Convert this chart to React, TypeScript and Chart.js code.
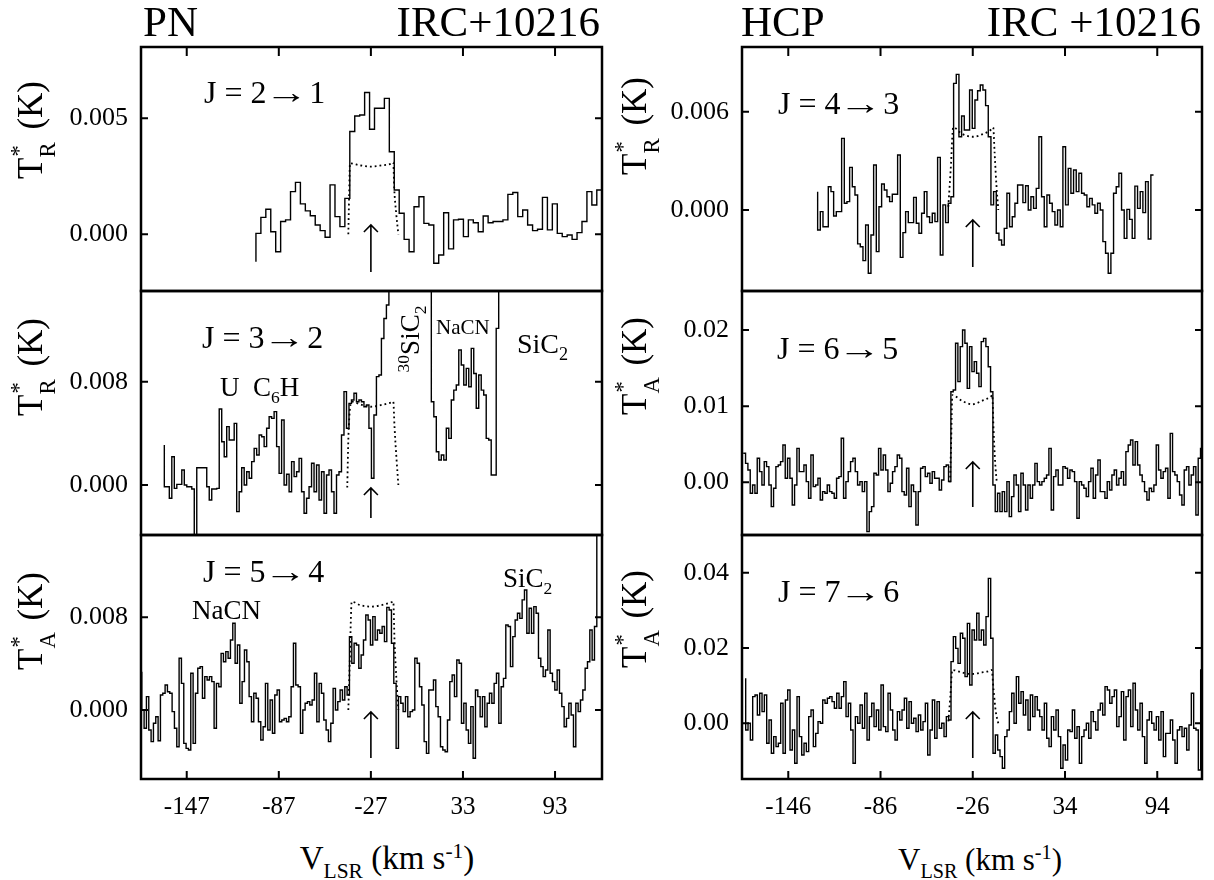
import React, { useEffect, useRef } from "react";
import { Chart, registerables } from "chart.js";
Chart.register(...registerables);

const FONT = '"Liberation Serif", "Times New Roman", Times, serif';

// ---------- tick values ----------
const pnVelTicks = [-147, -87, -27, 33, 93];
const hcpVelTicks = [-146, -86, -26, 34, 94];
const pn21Ticks = [0, 0.005];
const pn32Ticks = [0, 0.008];
const pn54Ticks = [0, 0.008];
const hcp43Ticks = [0, 0.006];
const hcp65Ticks = [0, 0.01, 0.02];
const hcp76Ticks = [0, 0.02, 0.04];

// ---------- observed spectra (mK), one value per channel ----------
const pn21Vals = [
  0.04, 0.73, 1.08, 0.11, -0.75, 0.55, 0.62, 1.84, 2.24, 1.31,
  1.01, 0.8, 0.4, 0.16, -0.13, 2.13, 0.76, 0.33, 1.55, 4.43,
  5.1, 5.14, 6.11, 4.53, 5.43, 5.43, 5.86, 3.56, 1.91, 0.91,
  -0.22, -0.75, 1.19, 1.62, 0.47, 0.4, -1.25, -0.89, 0.93, -0.63,
  0.62, 0.65, -0.1, 0.62, 0.5, 0.11, 0.79, 0.5, 0.55, 0.55,
  0.62, 1.72, 1.8, 0.76, 1.05, 0.4, 0.16, 0.22, 1.59, 0.19,
  1.31, 0.04, -0.1, -0.03, -0.22, 0.07, 0.55, 1.84, 1.26, 1.91,
];
const pn32Vals = [
  -0.13, -0.13, -1.03, 2.19, -0.26, 0.05, 0.05, 1.16, 0, -0.13,
  -0.13, -0.31, -4.0, 1.34, 1.34, 1.34, 1.34, -0.13, -1.16, -0.31,
  -0.31, -0.26, 5.88, 3.35, 2.19, 4.52, 3.48, 3.48, 4.77, -2.06,
  -0.52, 1.34, 0, 1.03, 0.52, 1.81, 2.84, 2.32, 3.87, 3.74,
  2.97, 4.39, 5.29, 5.16, 5.68, 2.97, 0.9, 5.03, 0, 0.83,
  -0.52, 1.81, 0.65, 1.03, 2.06, -0.52, -2.19, -1.03, -0.13, 1.68,
  -0.52, 1.55, -1.16, 1.03, -2.19, 0.77, 1.16, -0.52, -2.19, 0.77,
  1.03, 3.87, 7.23, 4.39, 6.32, 6.58, 7.1, 6.45, 6.58, 6.45,
  6.06, 6.19, 4.39, 0.52, 5.42, 8.39, 8.52, 11.35, 12.9, 13.94,
  20, 20, 20, 20, 20, 20, 20, 20, 20, 20,
  20, 20, 20, 20, 20, 20, 20, 6.45, 5.29, 2.58,
  1.94, 2.32, 1.94, 4.39, 3.61, 6.58, 7.35, 7.74, 10.45, 9.29,
  7.74, 9.03, 7.61, 10.58, 8.64, 5.94, 8.52, 7.35, 6.97, 3.61,
  3.48, 0.77, 0.77, 12.13, 20, 20,
];
const pn54Vals = [
  0, -1.58, 1.15, -1.73, -2.73, -1.15, -0.58, -2.65, 1.3, 1.44,
  2.16, 1.58, 1.44, -0.14, -1.58, -3.17, 4.46, 2.3, -2.88, -3.31,
  -3.45, 3.17, -2.88, 1.44, 3.6, 3.74, 1.01, 2.88, 2.59, 2.88,
  2.45, -1.58, 2.3, 2.01, 4.89, 4.17, 5.04, 4.46, 6.04, 7.48,
  4.03, 5.61, 0.58, 2.45, 5.18, 4.17, 1.15, -1.01, 1.44, 1.01,
  -1.01, -2.59, -1.44, 2.3, -1.73, 0.86, -2.01, 1.3, 1.73, -1.01,
  -0.86, -0.72, -1.01, -0.58, 2.01, 5.76, 2.16, 2.01, -2.01, 0,
  0.58, 0.72, 0.43, 0.86, 3.17, -1.01, 2.3, 1.44, -0.86, -1.73,
  -2.73, -1.15, 1.87, 0, 0.72, 1.73, 0.86, 2.01, 1.3, 6.33,
  4.03, 5.76, 5.61, 3.6, 4.75, 6.04, 8.2, 7.77, 5.61, 8.06,
  6.04, 6.91, 6.62, 7.2, 5.9, 8.86, 8.63, 5.76, 2.3, -3.31,
  1.15, 0.58, -0.14, 1.15, -0.58, -0.14, 0, 4.46, 4.03, 2.01,
  0.43, -2.73, -3.74, 1.73, 1.73, 2.59, 0.29, -0.58, -3.17, -3.45,
  -3.6, -0.86, 2.45, 3.02, 1.15, 4.32, 4.03, -1.15, 0.58, -1.73,
  -2.88, 0.29, -4.17, 1.73, 1.15, -0.58, 1.15, -1.44, 0.58, 1.44,
  0.58, 2.3, 3.17, -1.15, 2.01, 2.73, 7.34, 7.2, 3.74, 6.33,
  7.77, 8.35, 7.91, 9.5, 10.36, 6.62, 8.78, 6.62, 8.92, 8.35,
  4.46, 3.74, 2.88, 3.45, 6.91, 3.17, 2.45, 1.73, 3.45, 1.44,
  0.29, -1.44, -0.72, 0.58, -0.43, -3.17, 0.58, -0.14, 0.86, 1.73,
  3.6, 4.17, 6.91, 4.32, 7.2, 18,
];
const hcp43Vals = [
  -1.22, -0.1, -1.02, -1.02, 1.42, 1.12, -0.37, -0.1, -0.1, 4.37,
  0.41, 0.51, 2.6, 1.42, 0.92, -2.07, -2.24, -3.09, -0.92, -3.86,
  -1.53, 2.75, -2.54, 0.2, 1.59, 1.22, 0.81, 0.51, 0.96, 0.96,
  3.36, -2.89, -1.38, -0.1, -0.77, -0.77, 0.77, -0.81, -1.42, -0.2,
  1.12, -0.41, -0.77, -0.2, -0.71, 3.21, -2.75, 0.31, -0.77, 0.41,
  0.81, 7.73, 8.28, 4.47, 5.74, 4.88, 4.88, 7.32, 4.98, 6.71,
  7.28, 7.63, 7.32, 6.37, 4.47, 0.31, 1.12, -1.42, -1.83, -2.14,
  -1.12, 1.02, -1.02, -0.41, 0.41, 1.53, 1.53, 0.45, 1.48, 0,
  0.81, 0.1, 1.32, 4.47, 0.81, -1.02, 0.92, 0.41, -0.1, -0.92,
  0, -1.02, 3.86, 0.31, 2.54, 1.02, 2.44, 1.12, 2.24, 1.02,
  0.92, 0.2, 0.71, 0.31, -0.2, 0.41, 0, -1.93, -2.64, -3.86,
  -2.64, 1.02, 1.42, 2.24, 0, -1.73, 0.04, -0.57, -1.73, 1.46,
  0.1, 1.12, -0.16, 1.73, -1.77, 2.14,
];
const hcp65Vals = [
  3.81, 2.49, 1.62, -1.44, -0.35, -1.44, 3.15, 1.4, -0.35, 2.71,
  2.06, -0.35, -3.19, -0.79, 2.06, 2.28, 2.71, 4.9, 0.53, 3.15,
  0.53, -2.98, -0.35, 4.46, 1.4, 1.4, 2.28, 0.09, -2.1, 3.59,
  -0.57, -0.35, 0.53, -2.32, -1.23, -1.44, -0.35, -1.23, -1.44, -2.1,
  0.53, 0.74, 5.78, -2.1, 0.09, 1.4, 2.71, 3.15, 1.4, -0.35,
  0.09, -1.23, 0.09, -6.48, -3.85, -3.19, 1.18, 0.96, 4.46, 1.62,
  3.59, 1.62, -1.23, -0.13, 1.4, 2.06, 3.59, 3.15, -1.23, -1.66,
  1.84, -3.19, -0.35, -1.23, -5.6, -1.23, 1.84, 2.06, 0.74, 1.18,
  -0.13, 1.4, 0.53, 0.53, -1.01, 0.31, 2.06, 2.28, 0.09, 11.9,
  12.12, 18.25, 13.22, 17.81, 20.0, 18.25, 12.34, 17.81, 14.53, 15.84,
  14.31, 12.56, 18.47, 18.9, 17.81, 15.18, 11.9, -0.35, -3.85, -1.44,
  -3.85, -1.23, -3.85, 0.09, -4.51, -1.88, 0.96, -0.35, -3.85, 1.18,
  -0.35, -3.63, -0.35, -2.1, -0.35, 2.49, 0.09, -0.35, 0.09, 0.53,
  0.96, 4.46, -3.63, 0.74, 1.62, -0.35, -0.35, 2.06, 1.84, 0.53,
  1.62, 1.4, 0.09, -4.73, 0.09, -0.35, -0.79, -1.88, 0.09, 1.84,
  -2.1, 0.96, 2.93, -1.23, -1.23, -2.1, 0.09, -1.01, 0.96, 1.62,
  -0.35, 0.53, 1.4, -0.35, 4.03, 4.9, 5.56, 2.28, 5.34, 2.28,
  0.96, 0.09, -1.23, -2.32, -0.79, -1.23, -0.35, 4.9, 1.62, 0.53,
  1.4, 1.84, -2.1, 6.43, 1.4, 0.96, 0.09, -1.66, -2.98, 1.62,
  2.06, -0.35, 0.96, 2.06, -4.29, 3.15, 4.46,
];
const hcp76Vals = [
  -1.77, 0, -4.43, 7.08, 7.52, 2.21, 7.97, 3.1, 7.52, -5.31,
  0.89, -7.97, -3.54, -6.2, -5.31, 5.31, -7.97, 6.2, 8.85, -7.08,
  -1.77, -10.62, 7.08, -3.54, -8.41, -5.31, -7.52, 1.77, 3.54, -6.2,
  -2.66, 0.44, 0, 6.2, 5.31, 6.64, 7.08, 5.75, 3.98, 7.97,
  3.98, 7.08, 11.06, 1.77, 5.31, -1.77, -10.62, 1.77, 0, 4.87,
  -1.33, 7.97, -4.43, 1.77, 5.31, -0.89, 3.54, -1.77, 10.18, -0.89,
  -2.21, 7.97, 3.54, -1.77, -4.43, 3.1, 0.89, 3.54, 6.64, -1.33,
  5.75, 0, 1.33, -2.21, 2.21, -1.77, 0.44, 5.31, -8.41, -1.77,
  6.2, -3.98, 5.75, -1.33, 0, -3.54, 1.77, 0.89, 16.37, 23.01,
  19.91, 15.93, 23.9, 22.57, 12.39, 26.55, 10.18, 24.78, 22.13, 29.21,
  22.13, 24.78, 20.8, 28.32, 38.5, 22.57, -7.97, -3.1, -7.08, -8.85,
  -11.95, -3.54, -1.77, 3.1, 7.97, 0, 12.39, 5.31, 8.41, 2.21,
  6.2, -1.77, 7.52, 1.77, 7.08, 3.54, 1.77, -1.77, 5.31, -3.98,
  -6.2, 1.77, -1.77, 3.54, -3.54, -11.95, -5.75, -9.74, -1.77, -2.21,
  3.54, -3.98, -0.89, -10.62, -3.54, -1.77, 0, -3.98, 3.1, 0.44,
  -1.77, 3.54, 5.31, 2.21, 9.74, 8.85, 5.31, 7.08, 8.85, -0.89,
  1.77, 8.41, -4.43, 7.08, 8.85, -0.89, 10.62, 3.54, -1.77, 5.31,
  -3.54, -10.62, 0.89, 3.1, 0, -1.77, 1.77, -4.43, 3.1, -8.85,
  -2.66, -2.66, 0.89, -4.43, -10.62, -1.77, -0.89, -3.54, -1.33, -7.08,
  -0.44, 7.97, -1.33, -1.77, -12.39, 14.16,
];

// ---------- model profiles (dotted), velocity (km/s) and T (mK) ----------
const pn21ModelV = [-41.7, -41.2, -40.6, -34, -27, -20, -13.5, -12.4, -11.8, -10.5, -9.1];
const pn21ModelT = [0, 1.6, 3.06, 2.97, 2.92, 2.97, 3.05, 3.1, 2.0, 0.9, 0];
const pn32ModelV = [-42.4, -41.6, -39.5, -34, -27, -20, -13.5, -12.4, -11.6, -10.3, -9.1];
const pn32ModelT = [-0.2, 3.9, 6.45, 6.25, 6.06, 6.2, 6.4, 6.45, 4.5, 2.0, 0];
const pn54ModelV = [-41.7, -40.8, -39.5, -34, -27, -20, -13.5, -12.4, -11.6, -10.3, -9.1];
const pn54ModelT = [0, 4.0, 9.35, 9.05, 8.92, 9.05, 9.3, 9.35, 6.0, 2.5, 0];
const hcp43ModelV = [-41.9, -40.4, -38.7, -33, -26, -19, -13.5, -12.7, -11.8, -10.6, -9.4];
const hcp43ModelT = [0.2, 2.4, 5.04, 4.65, 4.47, 4.65, 4.95, 5.04, 3.5, 1.5, 0];
const hcp65ModelV = [-40.8, -40.1, -39.3, -33, -26.5, -20, -14, -13.3, -12.5, -11.4, -10.4];
const hcp65ModelT = [0, 5, 11.46, 10.7, 10.24, 10.7, 11.3, 11.46, 7, 2.5, 0];
const hcp76ModelV = [-41.9, -40.6, -39.3, -33, -26.5, -20, -14.5, -13.7, -12.5, -11, -9.4];
const hcp76ModelT = [0.5, 7, 14.16, 13.5, 13.1, 13.5, 14.0, 14.16, 9, 3, 0];

// channel grid: first channel left edge, channel width, level before first channel
const pn21Grid = { v0: -101.9, dv: 3.219, start: -1.18 };
const pn32Grid = { v0: -161.6, dv: 1.626, start: 3.1 };
const pn54Grid = { v0: -176.3, dv: 1.5206, start: 3.31 };
const hcp43Grid = { v0: -126.9, dv: 1.734, start: 1.12 };
const hcp65Grid = { v0: -175.3, dv: 1.5176, start: 3.81 };
const hcp76Grid = { v0: -173.7, dv: 1.5176, start: 11.95 };

function stepPoints(grid: { v0: number; dv: number; start: number }, vals: number[]) {
  const pts: { x: number; y: number }[] = [{ x: grid.v0, y: grid.start / 1000 }];
  vals.forEach((v, i) => pts.push({ x: grid.v0 + i * grid.dv, y: v / 1000 }));
  pts.push({ x: grid.v0 + vals.length * grid.dv, y: vals[vals.length - 1] / 1000 });
  return pts;
}
function modelPoints(vs: number[], ts: number[]) {
  return vs.map((v, i) => ({ x: v, y: ts[i] / 1000 }));
}

type PanelCfg = {
  L: number; T: number; W: number; H: number;
  xMin: number; xMax: number; yMin: number; yMax: number;
  yTicks: number[]; dec: number; xTicks: number[];
  xSide: "top" | "none" | "bottom";
  steps: { x: number; y: number }[];
  model: { x: number; y: number }[];
  arrowX: number; tip: number; tail: number;
};

const PAD = 100;

const panels: PanelCfg[] = [
  { L: 141, T: 47, W: 461, H: 244, xMin: -176.8, xMax: 123.6, yMin: -0.002444, yMax: 0.008073, yTicks: pn21Ticks, dec: 3, xTicks: pnVelTicks, xSide: "top", steps: stepPoints(pn21Grid, pn21Vals), model: modelPoints(pn21ModelV, pn21ModelT), arrowX: -27, tip: 66, tail: 19 },
  { L: 141, T: 291, W: 461, H: 244, xMin: -176.8, xMax: 123.6, yMin: -0.003872, yMax: 0.015024, yTicks: pn32Ticks, dec: 3, xTicks: pnVelTicks, xSide: "none", steps: stepPoints(pn32Grid, pn32Vals), model: modelPoints(pn32ModelV, pn32ModelT), arrowX: -27, tip: 47, tail: 17 },
  { L: 141, T: 535, W: 461, H: 244, xMin: -176.8, xMax: 123.6, yMin: -0.005955, yMax: 0.015102, yTicks: pn54Ticks, dec: 3, xTicks: pnVelTicks, xSide: "bottom", steps: stepPoints(pn54Grid, pn54Vals), model: modelPoints(pn54ModelV, pn54ModelT), arrowX: -27, tip: 67, tail: 21 },
  { L: 742, T: 47, W: 460, H: 244, xMin: -176.1, xMax: 123.1, yMin: -0.004944, yMax: 0.009949, yTicks: hcp43Ticks, dec: 3, xTicks: hcpVelTicks, xSide: "top", steps: stepPoints(hcp43Grid, hcp43Vals), model: modelPoints(hcp43ModelV, hcp43ModelT), arrowX: -26, tip: 71, tail: 24 },
  { L: 742, T: 291, W: 460, H: 244, xMin: -176.1, xMax: 123.1, yMin: -0.00692, yMax: 0.02512, yTicks: hcp65Ticks, dec: 2, xTicks: hcpVelTicks, xSide: "none", steps: stepPoints(hcp65Grid, hcp65Vals), model: modelPoints(hcp65ModelV, hcp65ModelT), arrowX: -26, tip: 73, tail: 28 },
  { L: 742, T: 535, W: 460, H: 244, xMin: -176.1, xMax: 123.1, yMin: -0.01479, yMax: 0.05001, yTicks: hcp76Ticks, dec: 2, xTicks: hcpVelTicks, xSide: "bottom", steps: stepPoints(hcp76Grid, hcp76Vals), model: modelPoints(hcp76ModelV, hcp76ModelT), arrowX: -26, tip: 67, tail: 21 },
];

const framePlugin = {
  id: "frame",
  afterDatasetsDraw(chart: any, _args: any, opts: any) {
    const { ctx, chartArea: a, scales } = chart;
    ctx.save();
    ctx.strokeStyle = "#000";
    ctx.lineWidth = 2.5;
    ctx.strokeRect(a.left, a.top, a.right - a.left, a.bottom - a.top);
    ctx.lineWidth = 2;
    ctx.beginPath();
    if (opts.xSide !== "none") {
      for (const v of opts.xTicks) {
        const px = scales.x.getPixelForValue(v);
        if (opts.xSide === "top") { ctx.moveTo(px, a.top); ctx.lineTo(px, a.top + 9); }
        else { ctx.moveTo(px, a.bottom); ctx.lineTo(px, a.bottom - 8); }
      }
    }
    for (const v of opts.yTicks) {
      const py = scales.y.getPixelForValue(v);
      ctx.moveTo(a.left, py); ctx.lineTo(a.left + 7, py);
      ctx.moveTo(a.right, py); ctx.lineTo(a.right - 7, py);
    }
    ctx.stroke();
    // arrow marking systemic velocity
    const ax = scales.x.getPixelForValue(opts.arrowX);
    const tipY = a.bottom - opts.tip;
    const tailY = a.bottom - opts.tail;
    ctx.lineWidth = 1.6;
    ctx.beginPath();
    ctx.moveTo(ax, tailY); ctx.lineTo(ax, tipY);
    ctx.moveTo(ax - 7, tipY + 7); ctx.lineTo(ax, tipY); ctx.lineTo(ax + 7, tipY + 7);
    ctx.stroke();
    ctx.restore();
  },
};

function Panel({ cfg }: { cfg: PanelCfg }) {
  const ref = useRef<HTMLCanvasElement | null>(null);
  const isBottom = cfg.xSide === "bottom";
  const cw = cfg.W + PAD + 4;
  const ch = cfg.H + 3 + (isBottom ? 60 : 4);
  useEffect(() => {
    const chart = new Chart(ref.current as HTMLCanvasElement, {
      type: "line",
      data: {
        datasets: [
          { data: cfg.steps, borderColor: "#000", borderWidth: 1.4, pointRadius: 0, stepped: true, fill: false, tension: 0 },
          { data: cfg.model, borderColor: "#000", borderWidth: 1.8, borderDash: [1.8, 3], pointRadius: 0, fill: false, cubicInterpolationMode: "monotone" },
        ],
      } as any,
      options: {
        animation: false,
        responsive: false,
        devicePixelRatio: 1,
        events: [],
        layout: { padding: { left: 0, top: 3, right: 4, bottom: isBottom ? 0 : 4 } },
        plugins: {
          legend: { display: false },
          tooltip: { enabled: false },
          frame: { xTicks: cfg.xTicks, yTicks: cfg.yTicks, xSide: cfg.xSide, arrowX: cfg.arrowX, tip: cfg.tip, tail: cfg.tail },
        } as any,
        scales: {
          x: {
            type: "linear",
            min: cfg.xMin,
            max: cfg.xMax,
            display: isBottom,
            position: "bottom",
            grid: { display: false, drawTicks: false },
            border: { display: false },
            ticks: { font: { family: FONT, size: 25 }, color: "#000", padding: 13, maxRotation: 0, autoSkip: false, callback: (v: any) => String(v) },
            afterBuildTicks: (s: any) => { s.ticks = cfg.xTicks.map((value) => ({ value })); },
            afterFit: (s: any) => {
              s.height = isBottom ? 60 : 0;
              s.paddingLeft = 0; s.paddingRight = 0; s.paddingTop = 0; s.paddingBottom = 0;
            },
          },
          y: {
            type: "linear",
            min: cfg.yMin,
            max: cfg.yMax,
            grid: { display: false, drawTicks: false },
            border: { display: false },
            ticks: { font: { family: FONT, size: 26 }, color: "#000", padding: 13, callback: (v: any) => Number(v).toFixed(cfg.dec) },
            afterBuildTicks: (s: any) => { s.ticks = cfg.yTicks.map((value) => ({ value })); },
            afterFit: (s: any) => {
              s.width = PAD;
              s.paddingLeft = 0; s.paddingRight = 0; s.paddingTop = 0; s.paddingBottom = 0;
            },
          },
        } as any,
      },
      plugins: [framePlugin],
    });
    return () => chart.destroy();
  }, []);
  return (
    <canvas
      ref={ref}
      width={cw}
      height={ch}
      style={{ position: "absolute", left: cfg.L - PAD, top: cfg.T - 3, width: cw, height: ch }}
    />
  );
}

const subStyle: React.CSSProperties = { fontSize: "0.65em", lineHeight: 0, position: "relative", verticalAlign: "baseline", top: "0.4em" };
const supStyle: React.CSSProperties = { fontSize: "0.65em", lineHeight: 0, position: "relative", verticalAlign: "baseline", top: "-0.55em" };

function Txt({ left, right, baseline, size, children, center }: any) {
  const style: React.CSSProperties = {
    position: "absolute",
    top: baseline - 0.8375 * size,
    fontSize: size,
    lineHeight: 1,
    fontFamily: FONT,
    whiteSpace: "nowrap",
    color: "#000",
  };
  if (left !== undefined) style.left = left;
  if (right !== undefined) style.right = right;
  if (center) style.transform = "translateX(-50%)";
  return <div style={style}>{children}</div>;
}

function Rot({ cx, cy, size, children }: any) {
  return (
    <div
      style={{
        position: "absolute",
        left: cx,
        top: cy,
        fontSize: size,
        lineHeight: 1,
        fontFamily: FONT,
        whiteSpace: "nowrap",
        color: "#000",
        transform: "translate(-50%, -50%) rotate(-90deg)",
      }}
    >
      {children}
    </div>
  );
}

function YTitle({ sub }: { sub: string }) {
  return (
    <span>
      T
      <span style={{ position: "relative", display: "inline-block", width: "0.45em", height: "0.1em" }}>
        <span style={{ position: "absolute", left: "0.05em", top: "-1.35em", fontSize: "0.65em", lineHeight: 1 }}>*</span>
        <span style={{ position: "absolute", left: 0, top: "-0.07em", fontSize: "0.65em", lineHeight: 1 }}>{sub}</span>
      </span>
      <span style={{ marginLeft: "0.35em" }}>(K)</span>
    </span>
  );
}

function XTitle() {
  return (
    <span>
      V<span style={subStyle}>LSR</span> (km s<span style={supStyle}>-1</span>)
    </span>
  );
}

function JLabel({ up, low }: { up: string; low: string }) {
  return (
    <span>
      J = {up}
      <span style={{ display: "inline-block", transform: "scaleX(1.35)", margin: "0 0.22em 0 0.12em" }}>→</span>
      {low}
    </span>
  );
}

export default function App() {
  return (
    <div style={{ position: "absolute", left: 0, top: 0, width: 1214, height: 880, background: "#fff", overflow: "hidden" }}>
      {panels.map((p, i) => (
        <Panel key={i} cfg={p} />
      ))}
      {/* titles */}
      <Txt left={143} baseline={36} size={43}>PN</Txt>
      <Txt right={614} baseline={36} size={43}>IRC+10216</Txt>
      <Txt left={741} baseline={36} size={43}>HCP</Txt>
      <Txt right={13} baseline={36} size={43}>IRC +10216</Txt>

      {/* transitions */}
      <Txt left={204} baseline={103} size={32}><JLabel up="2" low="1" /></Txt>
      <Txt left={202} baseline={348} size={32}><JLabel up="3" low="2" /></Txt>
      <Txt left={203} baseline={582} size={32}><JLabel up="5" low="4" /></Txt>
      <Txt left={778} baseline={114} size={32}><JLabel up="4" low="3" /></Txt>
      <Txt left={777} baseline={359} size={32}><JLabel up="6" low="5" /></Txt>
      <Txt left={778} baseline={602} size={32}><JLabel up="7" low="6" /></Txt>

      {/* species in PN panels */}
      <Txt left={220} baseline={397} size={27}>U</Txt>
      <Txt left={253} baseline={397} size={27}>C<span style={subStyle}>6</span>H</Txt>
      <Rot cx={410} cy={339} size={27}>
        <span style={supStyle}>30</span>SiC<span style={subStyle}>2</span>
      </Rot>
      <Txt left={436} baseline={335} size={21}>NaCN</Txt>
      <Txt left={517} baseline={353} size={28}>SiC<span style={subStyle}>2</span></Txt>
      <Txt left={192} baseline={620} size={27}>NaCN</Txt>
      <Txt left={503} baseline={588} size={27}>SiC<span style={subStyle}>2</span></Txt>

      {/* y titles */}
      <Rot cx={30} cy={130} size={35}><YTitle sub="R" /></Rot>
      <Rot cx={30} cy={367} size={35}><YTitle sub="R" /></Rot>
      <Rot cx={30} cy={621} size={35}><YTitle sub="A" /></Rot>
      <Rot cx={634} cy={126} size={35}><YTitle sub="R" /></Rot>
      <Rot cx={634} cy={366} size={35}><YTitle sub="A" /></Rot>
      <Rot cx={634} cy={619} size={35}><YTitle sub="A" /></Rot>

      {/* x titles */}
      <Txt left={387} baseline={870} size={33} center>
        <XTitle />
      </Txt>
      <Txt left={980} baseline={870} size={31} center>
        <XTitle />
      </Txt>
    </div>
  );
}
